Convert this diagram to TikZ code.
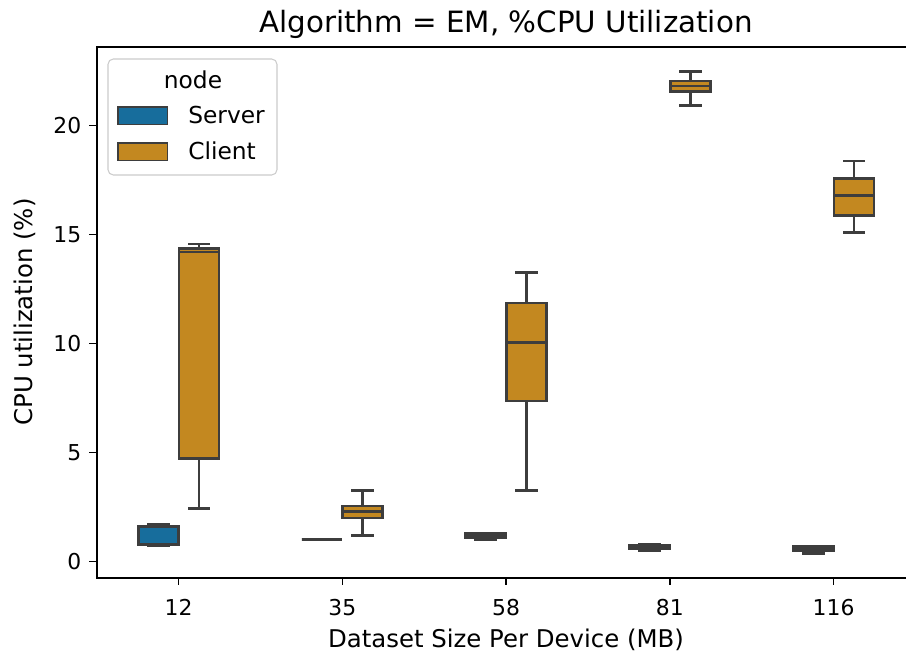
\documentclass[tikz,border=0pt]{standalone}
\usepackage{fontspec}
\setmainfont{DejaVu Sans}
\definecolor{srv}{HTML}{176D9C}
\definecolor{cli}{HTML}{C38820}
\definecolor{lgray}{HTML}{3D3D3D}
\definecolor{legedge}{HTML}{CCCCCC}
\tikzset{
 boxln/.style={draw=lgray, line width=2.1pt, line join=miter},
 whisk/.style={draw=lgray, line width=2.1pt, line cap=rect},
 spine/.style={draw=black, line width=1.25pt, line cap=rect},
 tickmk/.style={draw=black, line width=1.25pt},
 ticklab/.style={font=\fontsize{16.4}{19}\selectfont, inner sep=0pt},
 axlab/.style={font=\fontsize{18.3}{21}\selectfont, inner sep=0pt},
 titlelab/.style={font=\fontsize{22}{26}\selectfont, inner sep=0pt},
 leglab/.style={font=\fontsize{17.5}{20}\selectfont, inner sep=0pt},
 legpatch/.style={draw=lgray, line width=1.1pt},
}
\newcommand{\bxplot}[7]{% x, lo, q1, med, q3, hi, color
  \draw[whisk] (#1,#2) -- (#1,#3) (#1,#5) -- (#1,#6);
  \draw[whisk] (#1-0.061,#2) -- (#1+0.061,#2) (#1-0.061,#6) -- (#1+0.061,#6);
  \filldraw[boxln, fill=#7] (#1-0.122,#3) rectangle (#1+0.122,#5);
  \draw[boxln] (#1-0.122,#4) -- (#1+0.122,#4);
}
\begin{document}
\begin{tikzpicture}[x=0.75pt,y=-0.75pt]
\useasboundingbox (0,0) rectangle (906,656);
\fill[white] (0,0) rectangle (906,656);
% title and axis labels
\node[titlelab, anchor=base] (title) at (506,33) {Algorithm = EM, \%CPU Utilization};
\node[axlab, anchor=base] (xlab) at (506,647) {Dataset Size Per Device (MB)};
\node[axlab, rotate=90, anchor=base] (ylab) at (32,312) {CPU utilization (\%)};
% data scope
\begin{scope}[shift={(178.6,561.6)}, x=122.81pt, y=16.35pt]
  \bxplot{-0.125}{0.72}{0.78}{1.61}{1.61}{1.72}{srv}
  \bxplot{0.125}{2.45}{4.73}{14.2}{14.37}{14.57}{cli}
  \bxplot{0.875}{1.02}{1.02}{1.02}{1.02}{1.02}{srv}
  \bxplot{1.125}{1.21}{2.0}{2.29}{2.55}{3.25}{cli}
  \bxplot{1.875}{1.02}{1.10}{1.2}{1.28}{1.28}{srv}
  \bxplot{2.125}{3.25}{7.37}{10.06}{11.86}{13.27}{cli}
  \bxplot{2.875}{0.52}{0.58}{0.66}{0.75}{0.80}{srv}
  \bxplot{3.125}{20.94}{21.58}{21.82}{22.05}{22.47}{cli}
  \bxplot{3.875}{0.38}{0.50}{0.61}{0.72}{0.72}{srv}
  \bxplot{4.125}{15.09}{15.86}{16.78}{17.59}{18.38}{cli}
  % spines
  \coordinate (bl) at (-0.5,-0.75);
  \coordinate (tl) at (-0.5,23.6);
  \coordinate (br) at (4.4435,-0.75);
  \coordinate (tr) at (4.4435,23.6);
  \draw[spine] (tr) -- (tl) -- (bl) -- (br);
  % y ticks
  \foreach \v in {0,5,10,15,20}{
    \draw[tickmk] (-0.5,\v) -- ++(-7.3*0.75pt,0) node[ticklab, anchor=east, xshift=-5.5pt] (yt\v) {\v};
  }
  % x ticks
  \foreach \k/\lab in {0/12,1/35,2/58,3/81,4/116}{
    \coordinate (xc\k) at (\k,-0.75);
    \draw[tickmk] (xc\k) -- ++(0,-7.3*0.75pt);
  }
\end{scope}
\foreach \k/\lab in {0/12,1/35,2/58,3/81,4/116}{
  \node[ticklab, anchor=base] (xt\k) at (xc\k |- 0,615) {\lab};
}
% legend
\draw[draw=legedge, fill=white, fill opacity=0.8, line width=0.8pt, rounded corners=4pt] (108,59) rectangle (277,175);
\node[leglab, anchor=base] (legtitle) at (193,88.3) {node};
\draw[legpatch, fill=srv] (118,107) rectangle (167.5,124.5);
\draw[legpatch, fill=cli] (118,143) rectangle (167.5,160.5);
\node[leglab, anchor=base west] (legsrv) at (188,123.5) {Server};
\node[leglab, anchor=base west] (legcli) at (188,160) {Client};
\end{tikzpicture}
\end{document}
